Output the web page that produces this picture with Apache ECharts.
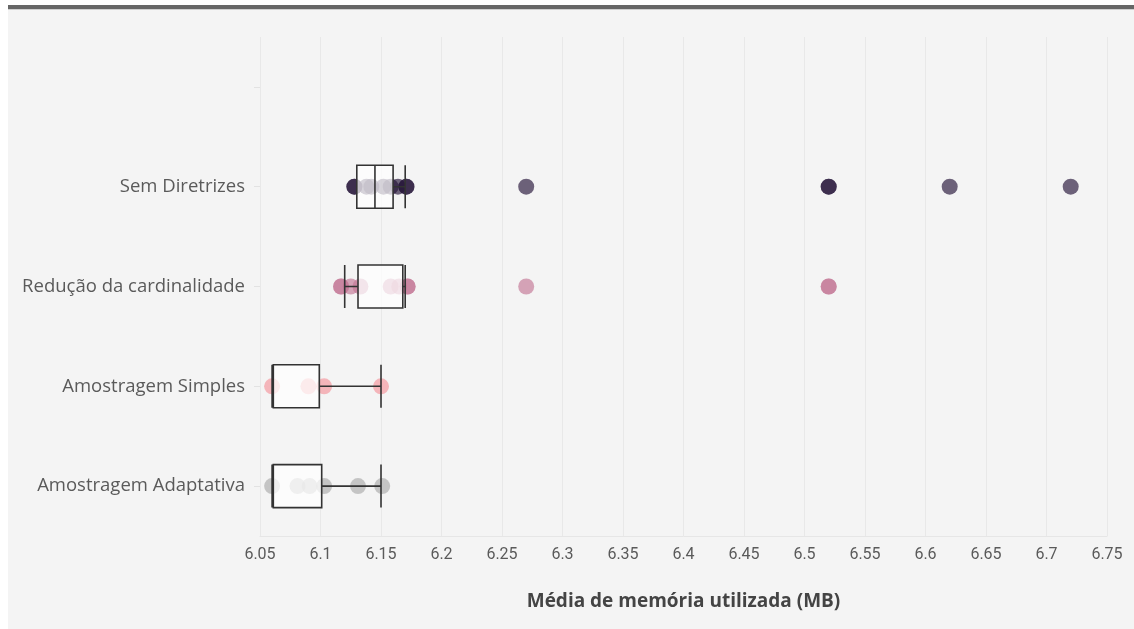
<!DOCTYPE html>
<html>
<head>
<meta charset="utf-8">
<script src="https://cdn.jsdelivr.net/npm/echarts@6/dist/echarts.min.js"></script>
<style>
html,body{margin:0;padding:0;background:#fff;}
#frame{position:absolute;left:8px;top:5px;width:1126px;height:624px;background:#f4f4f4;border-top:4px solid #666;box-sizing:border-box;}
#frame:after{content:"";position:absolute;left:0;right:0;top:0;height:1px;background:#cfcfcf;}
#chart{position:absolute;left:0;top:0;width:1134px;height:629px;}
</style>
</head>
<body>
<div id="frame"></div>
<div id="chart"></div>
<script>
// categories bottom -> top (last one is the empty slot at the top)
const categories = ['Amostragem Adaptativa', 'Amostragem Simples', 'Redução da cardinalidade', 'Sem Diretrizes', ''];

// box statistics: [min, Q1, median, Q3, max]
const boxSemDiretrizes = [6.13, 6.13, 6.145, 6.16, 6.17];
const boxReducao = [6.12, 6.131, 6.131, 6.168, 6.17];
const boxSimples = [6.06, 6.061, 6.061, 6.099, 6.15];
const boxAdaptativa = [6.06, 6.061, 6.061, 6.101, 6.15];

// individual observations
const ptsSemDiretrizes = [6.128, 6.128, 6.138, 6.142, 6.152, 6.158, 6.164, 6.171, 6.171, 6.27, 6.52, 6.52, 6.62, 6.72];
const ptsReducao = [6.117, 6.117, 6.125, 6.133, 6.158, 6.165, 6.172, 6.172, 6.27, 6.52, 6.52];
const ptsSimples = [6.06, 6.09, 6.103, 6.15];
const ptsAdaptativa = [6.06, 6.081, 6.091, 6.103, 6.131, 6.151];

const xTicks = {min: 6.05, max: 6.75, interval: 0.05};

const chart = echarts.init(document.getElementById('chart'), null, {renderer: 'canvas'});

function pts(arr, cat) { return arr.map(v => [v, cat]); }
function scatter(arr, cat, color) {
  return {
    type: 'scatter', data: pts(arr, cat), symbolSize: 16, z: 1,
    itemStyle: {color: color, opacity: 0.65}, silent: true
  };
}

chart.setOption({
  backgroundColor: 'transparent',
  animation: false,
  grid: {left: 260, right: 27, top: 37, height: 499},
  xAxis: {
    type: 'value', min: xTicks.min, max: xTicks.max, interval: xTicks.interval,
    name: 'Média de memória utilizada (MB)', nameLocation: 'middle', nameGap: 56,
    nameTextStyle: {fontFamily: 'Open Sans', fontWeight: 'bold', fontSize: 19, color: '#444'},
    axisLine: {show: true, lineStyle: {color: '#e6e6e6', width: 1}},
    axisTick: {show: false},
    axisLabel: {color: '#5a5a5a', fontFamily: 'Roboto', fontSize: 16, margin: 11,
      formatter: v => String(parseFloat(Number(v).toFixed(2)))},
    splitLine: {show: true, lineStyle: {color: '#e8e8e8', width: 1}}
  },
  yAxis: {
    type: 'category', data: categories,
    axisLine: {show: false},
    axisTick: {show: true, alignWithLabel: true, length: 6, lineStyle: {color: '#e2e2e2'}},
    axisLabel: {color: '#5a5a5a', fontFamily: 'Open Sans', fontSize: 18.5, margin: 15},
    splitLine: {show: false}
  },
  series: [
    scatter(ptsSemDiretrizes, 'Sem Diretrizes', '#231238'),
    scatter(ptsReducao, 'Redução da cardinalidade', '#c37695'),
    scatter(ptsSimples, 'Amostragem Simples', '#f5939b'),
    scatter(ptsAdaptativa, 'Amostragem Adaptativa', '#aaaaaa'),
    {
      type: 'boxplot', z: 2, boxWidth: [43, 43], silent: true,
      itemStyle: {color: 'rgba(255,255,255,0.72)', borderColor: '#333', borderWidth: 1.6},
      data: [
        {value: boxAdaptativa},
        {value: boxSimples},
        {value: boxReducao},
        {value: boxSemDiretrizes},
        {value: []}
      ]
    }
  ]
});
</script>
</body>
</html>
